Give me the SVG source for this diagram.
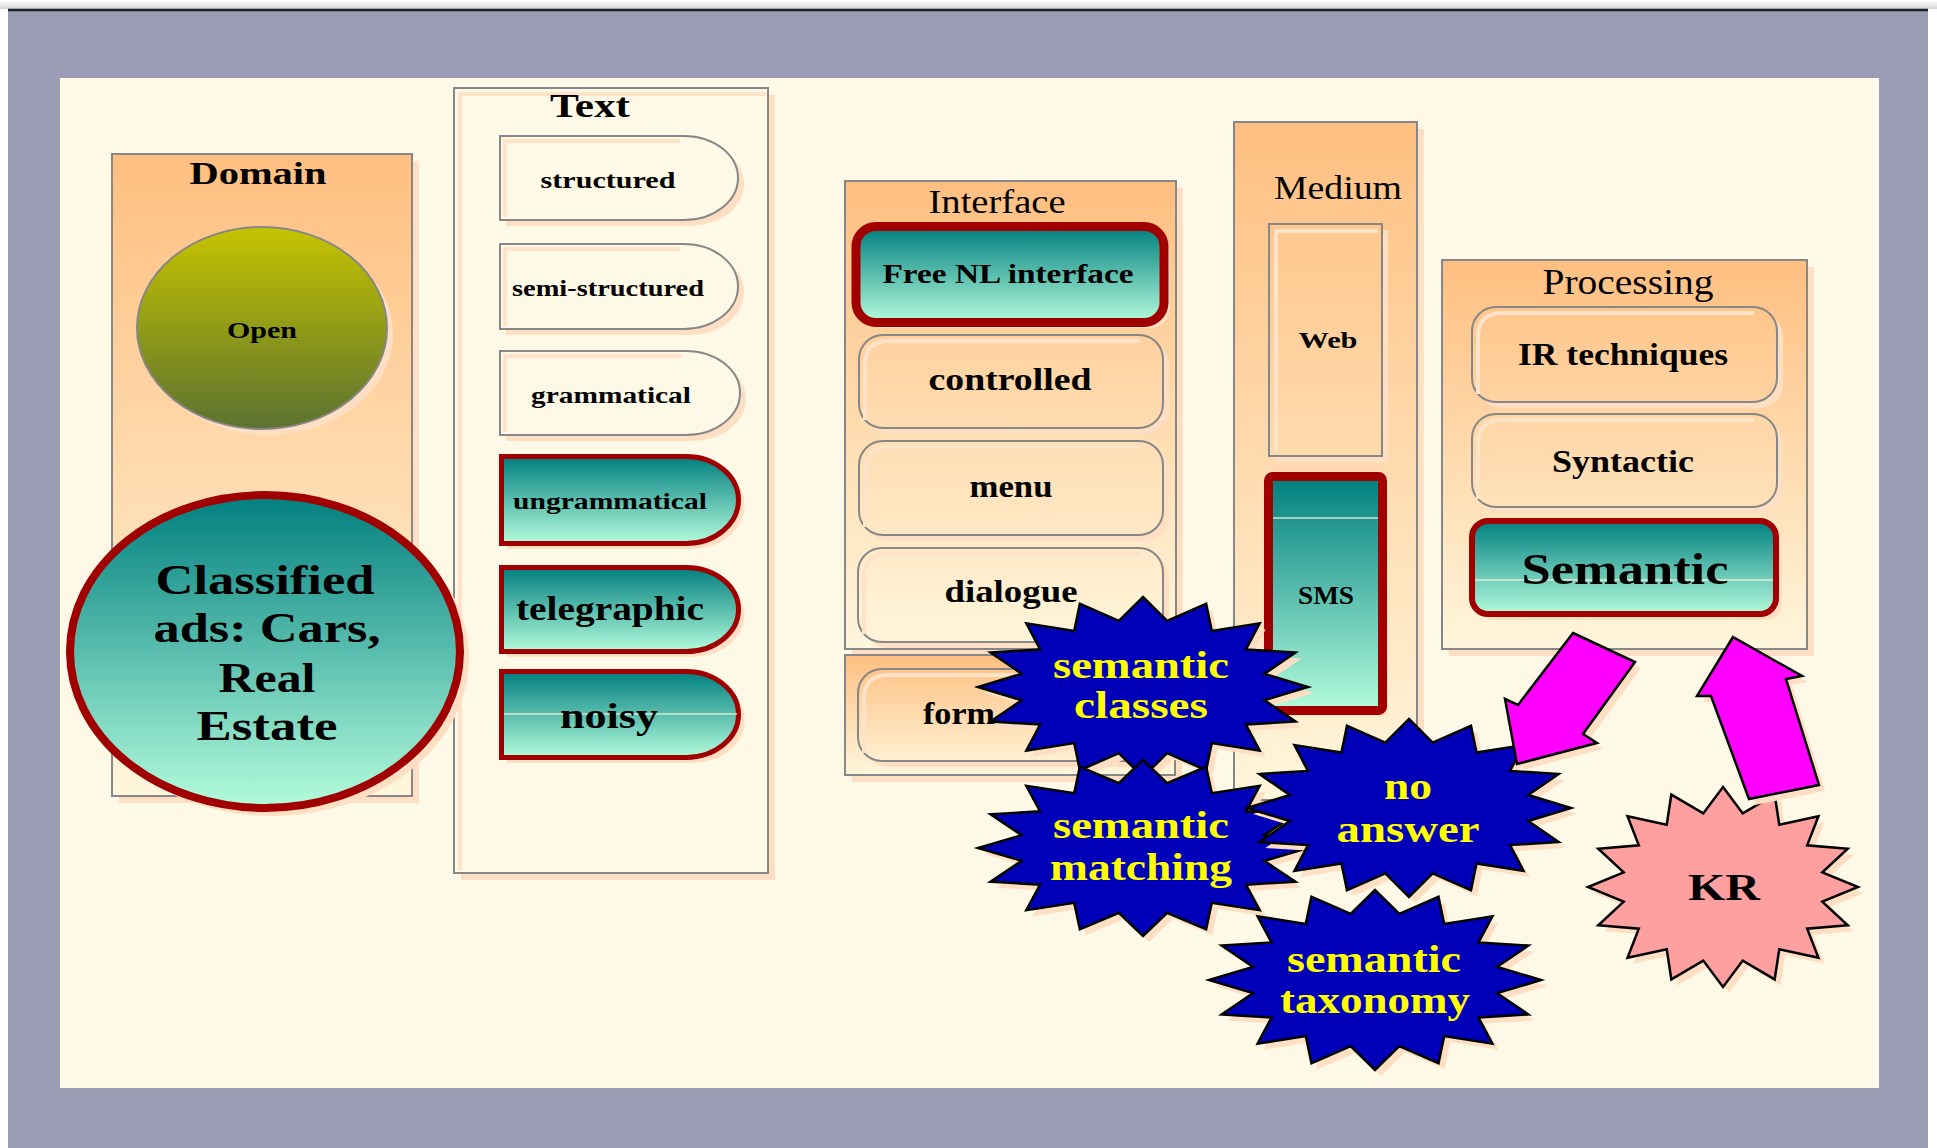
<svg xmlns="http://www.w3.org/2000/svg" xmlns:xlink="http://www.w3.org/1999/xlink" width="1937" height="1148" viewBox="0 0 1937 1148">
  <defs>
    <linearGradient id="topFade" x1="0" y1="0" x2="0" y2="1">
      <stop offset="0" stop-color="#ffffff"/>
      <stop offset="1" stop-color="#d4d4d4"/>
    </linearGradient>
    <linearGradient id="gDomain" gradientUnits="userSpaceOnUse" x1="0" y1="154" x2="0" y2="796">
      <stop offset="0" stop-color="#ffbf80"/>
      <stop offset="1" stop-color="#fff6dc"/>
    </linearGradient>
    <linearGradient id="gInterface" gradientUnits="userSpaceOnUse" x1="0" y1="181" x2="0" y2="649">
      <stop offset="0" stop-color="#ffbf80"/>
      <stop offset="1" stop-color="#fff6dc"/>
    </linearGradient>
    <linearGradient id="gForm" gradientUnits="userSpaceOnUse" x1="0" y1="655" x2="0" y2="775">
      <stop offset="0" stop-color="#ffbf80"/>
      <stop offset="1" stop-color="#fff6dc"/>
    </linearGradient>
    <linearGradient id="gMedium" gradientUnits="userSpaceOnUse" x1="0" y1="122" x2="0" y2="800">
      <stop offset="0" stop-color="#ffbf80"/>
      <stop offset="1" stop-color="#fff6dc"/>
    </linearGradient>
    <linearGradient id="gProc" gradientUnits="userSpaceOnUse" x1="0" y1="260" x2="0" y2="649">
      <stop offset="0" stop-color="#ffbf80"/>
      <stop offset="1" stop-color="#fff6dc"/>
    </linearGradient>
    <linearGradient id="teal" x1="0" y1="0" x2="0" y2="1">
      <stop offset="0" stop-color="#007f7f"/>
      <stop offset="1" stop-color="#b4fcdc"/>
    </linearGradient>
    <linearGradient id="olive" x1="0" y1="0" x2="0" y2="1">
      <stop offset="0" stop-color="#c6c400"/>
      <stop offset="1" stop-color="#5c7230"/>
    </linearGradient>
    <!-- unit 16-point star, inner radius 0.75 -->
    <polygon id="star16" points="0,-1 0.1463,-0.7356 0.3827,-0.9239 0.4167,-0.6236 0.7071,-0.7071 0.6236,-0.4167 0.9239,-0.3827 0.7356,-0.1463 1,0 0.7356,0.1463 0.9239,0.3827 0.6236,0.4167 0.7071,0.7071 0.4167,0.6236 0.3827,0.9239 0.1463,0.7356 0,1 -0.1463,0.7356 -0.3827,0.9239 -0.4167,0.6236 -0.7071,0.7071 -0.6236,0.4167 -0.9239,0.3827 -0.7356,0.1463 -1,0 -0.7356,-0.1463 -0.9239,-0.3827 -0.6236,-0.4167 -0.7071,-0.7071 -0.4167,-0.6236 -0.3827,-0.9239 -0.1463,-0.7356" vector-effect="non-scaling-stroke"/>
    <style>
      .sh { fill: #ffdfc4; stroke: none; }
      .edge { stroke: #878787; stroke-width: 2; }
      .hl { fill: none; stroke: #ffe3c8; stroke-width: 4; }
      .red { stroke: #a00000; }
      .txt { font-family: "Liberation Serif", "Times New Roman", serif; font-weight: bold; fill: #000; text-anchor: middle; }
      .reg { font-weight: normal; }
      .blue { fill: #0000b8; stroke: #000; stroke-width: 2.5; }
      .pink { fill: #ffa0a0; stroke: #000; stroke-width: 2.5; }
      .yel { fill: #ffff00; }
      .arrow { fill: #ff00ff; stroke: #000; stroke-width: 2.5; stroke-linejoin: miter; }
      .seam { stroke: #f4f0d8; stroke-width: 1.5; opacity: 0.85; }
    </style>
  </defs>

  <!-- page frame -->
  <rect x="0" y="0" width="1937" height="1148" fill="#ffffff"/>
  <rect x="0" y="0" width="1937" height="9" fill="url(#topFade)"/>
  <rect x="8" y="11" width="1920" height="1137" fill="#9b9bb3"/>
  <line x1="8" y1="10" x2="1928" y2="10" stroke="#1e1e28" stroke-width="2.5"/>
  <rect x="60" y="78" width="1819" height="1010" fill="#fef9e6"/>

  <!-- Domain column -->
  <g id="domain">
    <rect class="sh" x="119" y="161" width="300" height="642"/>
    <rect class="edge" x="112" y="154" width="300" height="642" fill="url(#gDomain)"/>
    <text class="txt" x="258" y="184" font-size="32" textLength="137" lengthAdjust="spacingAndGlyphs">Domain</text>
  </g>
  <g id="open">
    <ellipse class="sh" cx="268" cy="334" rx="125" ry="101"/>
    <ellipse class="edge" cx="262" cy="328" rx="125" ry="101" fill="url(#olive)"/>
    <text class="txt" x="262" y="338" font-size="24" textLength="70" lengthAdjust="spacingAndGlyphs">Open</text>
  </g>

  <!-- Text column -->
  <g id="text-panel">
    <rect class="sh" x="461" y="95" width="314" height="785"/>
    <rect class="edge" x="454" y="88" width="314" height="785" fill="#fef9e6"/>
    <polyline class="hl" points="460,871 460,94 766,94"/>
    <text class="txt" x="590" y="117" font-size="33" textLength="80" lengthAdjust="spacingAndGlyphs">Text</text>
  </g>
  <g id="structured">
    <path class="sh" d="M506,142 H690 A54,42 0 0 1 690,226 H506 Z"/>
    <path class="edge" d="M500,136 H684 A54,42 0 0 1 684,220 H500 Z" fill="#fef9e6"/>
    <polyline class="hl" points="505,217 505,141 680,141"/>
    <text class="txt" x="608" y="188" font-size="24" textLength="135" lengthAdjust="spacingAndGlyphs">structured</text>
  </g>
  <g id="semi-structured">
    <path class="sh" d="M506,250 H690 A54,42.5 0 0 1 690,335 H506 Z"/>
    <path class="edge" d="M500,244 H684 A54,42.5 0 0 1 684,329 H500 Z" fill="#fef9e6"/>
    <polyline class="hl" points="505,326 505,249 680,249"/>
    <text class="txt" x="608" y="296" font-size="24" textLength="192" lengthAdjust="spacingAndGlyphs">semi-structured</text>
  </g>
  <g id="grammatical">
    <path class="sh" d="M506,357 H692 A54,42 0 0 1 692,441 H506 Z"/>
    <path class="edge" d="M500,351 H686 A54,42 0 0 1 686,435 H500 Z" fill="#fef9e6"/>
    <polyline class="hl" points="505,432 505,356 682,356"/>
    <text class="txt" x="611" y="403" font-size="24" textLength="160" lengthAdjust="spacingAndGlyphs">grammatical</text>
  </g>
  <g id="ungrammatical">
    <path class="sh" d="M507,462 H692 A52.5,43.5 0 0 1 692,549 H507 Z"/>
    <path class="red" d="M501.5,456.5 H686 A52.5,43.5 0 0 1 686,543.5 H501.5 Z" fill="url(#teal)" stroke-width="5"/>
    <text class="txt" x="610" y="509" font-size="24" textLength="194" lengthAdjust="spacingAndGlyphs">ungrammatical</text>
  </g>
  <g id="telegraphic">
    <path class="sh" d="M507,573 H692 A52.5,42 0 0 1 692,657 H507 Z"/>
    <path class="red" d="M501.5,567.5 H686 A52.5,42 0 0 1 686,651.5 H501.5 Z" fill="url(#teal)" stroke-width="5"/>
    <text class="txt" x="610" y="620" font-size="34" textLength="188" lengthAdjust="spacingAndGlyphs">telegraphic</text>
  </g>
  <g id="noisy">
    <path class="sh" d="M507,677 H692 A52.5,43 0 0 1 692,763 H507 Z"/>
    <path class="red" d="M501.5,671.5 H686 A52.5,43 0 0 1 686,757.5 H501.5 Z" fill="url(#teal)" stroke-width="5"/>
    <line class="seam" x1="504" y1="714" x2="737" y2="714"/>
    <text class="txt" x="609" y="728" font-size="36" textLength="98" lengthAdjust="spacingAndGlyphs">noisy</text>
  </g>

  <!-- Interface column -->
  <g id="interface">
    <rect class="sh" x="852" y="188" width="331" height="468"/>
    <rect class="edge" x="845" y="181" width="331" height="468" fill="url(#gInterface)"/>
    <text class="txt reg" x="997" y="213" font-size="34" textLength="137" lengthAdjust="spacingAndGlyphs">Interface</text>
  </g>
  <g id="free-nl">
    <rect class="sh" x="862" y="232" width="308" height="96" rx="20"/>
    <rect class="red" x="856" y="226.5" width="308" height="96" rx="20" fill="url(#teal)" stroke-width="9"/>
    <text class="txt" x="1008" y="283" font-size="28" textLength="251" lengthAdjust="spacingAndGlyphs">Free NL interface</text>
  </g>
  <g id="controlled">
    <rect class="sh" x="865" y="341" width="304" height="93" rx="24"/>
    <rect class="edge" x="859" y="335" width="304" height="93" rx="24" fill="url(#gInterface)"/>
    <path class="hl" d="M865,420 V365 Q865,341 889,341 H1140"/>
    <text class="txt" x="1010" y="390" font-size="31" textLength="163" lengthAdjust="spacingAndGlyphs">controlled</text>
  </g>
  <g id="menu">
    <rect class="sh" x="865" y="447" width="304" height="94" rx="24"/>
    <rect class="edge" x="859" y="441" width="304" height="94" rx="24" fill="url(#gInterface)"/>
    <path class="hl" d="M865,527 V471 Q865,447 889,447 H1140"/>
    <text class="txt" x="1011" y="497" font-size="31" textLength="83" lengthAdjust="spacingAndGlyphs">menu</text>
  </g>
  <g id="dialogue">
    <rect class="sh" x="864" y="554" width="305" height="94" rx="24"/>
    <rect class="edge" x="858" y="548" width="305" height="94" rx="24" fill="url(#gInterface)"/>
    <path class="hl" d="M864,634 V578 Q864,554 888,554 H1140"/>
    <text class="txt" x="1011" y="602" font-size="31" textLength="133" lengthAdjust="spacingAndGlyphs">dialogue</text>
  </g>
  <g id="form-panel">
    <rect class="sh" x="852" y="662" width="330" height="120"/>
    <rect class="edge" x="845" y="655" width="330" height="120" fill="url(#gForm)"/>
  </g>
  <g id="form">
    <rect class="sh" x="864" y="675" width="305" height="92" rx="24"/>
    <rect class="edge" x="858" y="669" width="305" height="92" rx="24" fill="url(#gForm)"/>
    <path class="hl" d="M864,753 V699 Q864,675 888,675 H1140"/>
    <text class="txt" x="923" y="724" font-size="31" textLength="72" lengthAdjust="spacingAndGlyphs" style="text-anchor:start">form</text>
  </g>

  <!-- Medium column -->
  <g id="medium">
    <rect class="sh" x="1241" y="129" width="183" height="678"/>
    <rect class="edge" x="1234" y="122" width="183" height="678" fill="url(#gMedium)"/>
    <text class="txt reg" x="1338" y="199" font-size="33" textLength="128" lengthAdjust="spacingAndGlyphs">Medium</text>
  </g>
  <g id="web">
    <rect class="sh" x="1275" y="230" width="113" height="232"/>
    <rect class="edge" x="1269" y="224" width="113" height="232" fill="url(#gMedium)"/>
    <polyline class="hl" points="1276,452 1276,231 1378,231"/>
    <text class="txt" x="1328" y="348" font-size="24" textLength="59" lengthAdjust="spacingAndGlyphs">Web</text>
  </g>
  <g id="sms">
    <rect class="sh" x="1274" y="482" width="114" height="234" rx="4"/>
    <rect class="red" x="1268.5" y="476.5" width="114" height="234" rx="4" fill="url(#teal)" stroke-width="9"/>
    <line class="seam" x1="1273" y1="518" x2="1378" y2="518"/>
    <text class="txt" x="1326" y="604" font-size="25" textLength="56" lengthAdjust="spacingAndGlyphs">SMS</text>
  </g>

  <!-- Processing column -->
  <g id="processing">
    <rect class="sh" x="1449" y="267" width="365" height="389"/>
    <rect class="edge" x="1442" y="260" width="365" height="389" fill="url(#gProc)"/>
    <text class="txt reg" x="1628" y="294" font-size="35" textLength="171" lengthAdjust="spacingAndGlyphs">Processing</text>
  </g>
  <g id="ir">
    <rect class="sh" x="1478" y="313" width="305" height="95" rx="24"/>
    <rect class="edge" x="1472" y="307" width="305" height="95" rx="24" fill="url(#gProc)"/>
    <path class="hl" d="M1478,394 V337 Q1478,313 1502,313 H1754"/>
    <text class="txt" x="1623" y="365" font-size="31" textLength="210" lengthAdjust="spacingAndGlyphs">IR techniques</text>
  </g>
  <g id="syntactic">
    <rect class="sh" x="1478" y="420" width="305" height="93" rx="24"/>
    <rect class="edge" x="1472" y="414" width="305" height="93" rx="24" fill="url(#gProc)"/>
    <path class="hl" d="M1478,499 V444 Q1478,420 1502,420 H1754"/>
    <text class="txt" x="1623" y="472" font-size="31" textLength="142" lengthAdjust="spacingAndGlyphs">Syntactic</text>
  </g>
  <g id="semantic">
    <rect class="sh" x="1478" y="527" width="304" height="93" rx="16"/>
    <rect class="red" x="1472" y="521" width="304" height="93" rx="16" fill="url(#teal)" stroke-width="6"/>
    <line class="seam" x1="1475" y1="580" x2="1773" y2="580"/>
    <text class="txt" x="1625" y="584" font-size="44" textLength="207" lengthAdjust="spacingAndGlyphs">Semantic</text>
  </g>

  <!-- highlighted domain -->
  <g id="classified">
    <ellipse class="sh" cx="272" cy="658" rx="197" ry="158"/>
    <ellipse class="red" cx="265" cy="651.5" rx="195" ry="156.5" fill="url(#teal)" stroke-width="8"/>
    <text class="txt" x="265" y="594" font-size="42" textLength="219" lengthAdjust="spacingAndGlyphs">Classified</text>
    <text class="txt" x="267" y="642" font-size="42" textLength="227" lengthAdjust="spacingAndGlyphs">ads: Cars,</text>
    <text class="txt" x="267" y="692" font-size="42" textLength="97" lengthAdjust="spacingAndGlyphs">Real</text>
    <text class="txt" x="267" y="740" font-size="42" textLength="141" lengthAdjust="spacingAndGlyphs">Estate</text>
  </g>

  <!-- issue bursts -->
  <g id="semantic-classes">
    <use xlink:href="#star16" class="sh" transform="translate(1149,693) scale(165,90)"/>
    <use xlink:href="#star16" class="blue" transform="translate(1143,687) scale(165,90)"/>
    <text class="txt yel" x="1141" y="678" font-size="37" textLength="176" lengthAdjust="spacingAndGlyphs">semantic</text>
    <text class="txt yel" x="1141" y="718" font-size="37" textLength="134" lengthAdjust="spacingAndGlyphs">classes</text>
  </g>
  <g id="semantic-matching">
    <use xlink:href="#star16" class="sh" transform="translate(1149,854) scale(165,88)"/>
    <use xlink:href="#star16" class="blue" transform="translate(1143,848) scale(165,88)"/>
    <text class="txt yel" x="1141" y="838" font-size="37" textLength="176" lengthAdjust="spacingAndGlyphs">semantic</text>
    <text class="txt yel" x="1141" y="880" font-size="37" textLength="182" lengthAdjust="spacingAndGlyphs">matching</text>
  </g>
  <g id="no-answer">
    <use xlink:href="#star16" class="sh" transform="translate(1415,814) scale(162,89)"/>
    <use xlink:href="#star16" class="blue" transform="translate(1409,808) scale(162,89)"/>
    <text class="txt yel" x="1408" y="799" font-size="37" textLength="48" lengthAdjust="spacingAndGlyphs">no</text>
    <text class="txt yel" x="1408" y="842" font-size="37" textLength="143" lengthAdjust="spacingAndGlyphs">answer</text>
  </g>
  <g id="semantic-taxonomy">
    <use xlink:href="#star16" class="sh" transform="translate(1381,986) scale(166,90)"/>
    <use xlink:href="#star16" class="blue" transform="translate(1375,980) scale(166,90)"/>
    <text class="txt yel" x="1374" y="972" font-size="37" textLength="174" lengthAdjust="spacingAndGlyphs">semantic</text>
    <text class="txt yel" x="1375" y="1013" font-size="37" textLength="190" lengthAdjust="spacingAndGlyphs">taxonomy</text>
  </g>
  <g id="kr">
    <use xlink:href="#star16" class="sh" transform="translate(1729,893) scale(135,100)"/>
    <use xlink:href="#star16" class="pink" transform="translate(1723,887) scale(135,100)"/>
    <text class="txt" x="1724" y="900" font-size="38" textLength="72" lengthAdjust="spacingAndGlyphs">KR</text>
  </g>

  <!-- block arrows between Semantic and KR -->
  <g id="connectors">
    <polygon class="sh" points="1579,639 1641,668 1589,740 1603,749 1523,770 1511,705 1524,711"/>
    <polygon class="arrow" points="1573,633 1635,662 1583,734 1597,743 1517,764 1505,699 1518,705"/>
    <polygon class="sh" points="1739,643 1808,682 1792,685 1825,791 1755,805 1717,702 1703,702"/>
    <polygon class="arrow" points="1733,637 1802,676 1786,679 1819,785 1749,799 1711,696 1697,696"/>
  </g>
</svg>
